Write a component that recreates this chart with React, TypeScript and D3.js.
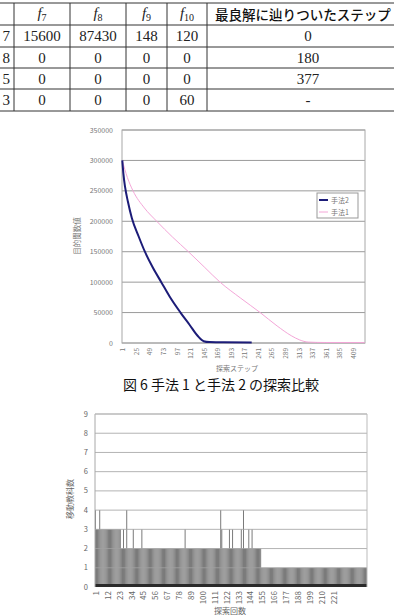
import React from "react";
import * as d3 from "d3";

// ---- table data ----
const tableHeaders = ["7", "8", "9", "10"];
const tableLastHeader = "最良解に辿りついたステップ";
const rowLead = ["7", "8", "5", "3"];
const rowF7 = ["15600", "0", "0", "0"];
const rowF8 = ["87430", "0", "0", "0"];
const rowF9 = ["148", "0", "0", "0"];
const rowF10 = ["120", "0", "0", "60"];
const rowBest = ["0", "180", "377", "-"];

// ---- line chart data ----
const lineYTicks = [0, 50000, 100000, 150000, 200000, 250000, 300000, 350000];
const lineXLabels = [1, 25, 49, 73, 97, 121, 145, 169, 193, 217, 241, 265, 289, 313, 337, 361, 385, 409];
const lineStepCount = 430;
const m2Steps = [1, 3, 6, 11, 18, 30, 41, 55, 70, 85, 104, 120, 135, 145, 155, 180, 230];
const m2Values = [300000, 278000, 256000, 232000, 205000, 175000, 150000, 124000, 100000, 76000, 50000, 30000, 11000, 3000, 1500, 1100, 1000];
const m1Steps = [1, 10, 20, 40, 62, 90, 118, 146, 174, 210, 245, 275, 300, 315, 330, 360, 430];
const m1Values = [300000, 272000, 250000, 222000, 200000, 174000, 150000, 125000, 100000, 74000, 50000, 28000, 12000, 5000, 1500, 800, 700];
const legendNames = ["手法2", "手法1"];

// ---- bar chart data ----
const barYTicks = [0, 1, 2, 3, 4, 5, 6, 7, 8, 9];
const barXLabels = [1, 12, 23, 34, 45, 56, 67, 78, 89, 100, 111, 122, 133, 144, 155, 166, 177, 188, 199, 210, 221];
const barValues = [
  4, 3, 3, 3, 4, 3, 3, 3, 3, 3, 3, 3, 3, 3, 3, 3, 3, 3, 3, 3, 3, 3, 3, 3, 2, 2, 3, 2, 2, 4,
  2, 2, 2, 2, 2, 3, 2, 2, 2, 2, 2, 2, 2, 3, 2, 2, 2, 2, 2, 2, 2, 2, 2, 2, 2, 2, 2, 2, 2, 2,
  2, 2, 2, 2, 2, 2, 2, 2, 2, 2, 2, 2, 2, 2, 2, 2, 2, 2, 2, 2, 2, 2, 2, 3, 2, 2, 2, 2, 2, 2,
  2, 2, 2, 2, 2, 2, 2, 2, 2, 2, 2, 2, 2, 2, 2, 2, 2, 2, 2, 2, 2, 2, 2, 2, 2, 2, 4, 3, 2, 2,
  2, 2, 2, 2, 3, 2, 2, 3, 2, 2, 2, 2, 2, 2, 2, 3, 2, 4, 2, 2, 2, 2, 3, 2, 2, 3, 2, 2, 2, 2,
  2, 2, 2, 2, 1, 1, 1, 1, 1, 1, 1, 1, 1, 1, 1, 1, 1, 1, 1, 1, 1, 1, 1, 1, 1, 1, 1, 1, 1, 1,
  1, 1, 1, 1, 1, 1, 1, 1, 1, 1, 1, 1, 1, 1, 1, 1, 1, 1, 1, 1, 1, 1, 1, 1, 1, 1, 1, 1, 1, 1,
  1, 1, 1, 1, 1, 1, 1, 1, 1, 1, 1, 1, 1, 1, 1, 1, 1, 1, 1, 1, 1, 1, 1, 1, 1, 1, 1, 1, 1, 1,
  1, 1, 1, 1, 1, 1, 1, 1, 1, 1, 1, 1,
];

const serif = "'Liberation Serif', 'Times New Roman', 'DejaVu Serif', serif";
const cjk = "'Noto Sans CJK JP', 'Noto Sans', sans-serif";
const serifStyle = { fontFamily: serif };
const cjkStyle = { fontFamily: cjk };

export default function App() {
  // table geometry
  const rowLines = [3, 25, 47, 68, 89, 111];
  const colLines = [14, 70, 126, 167, 207];
  const colCenters = [42, 98, 146.5, 187];
  const rowCols = [rowF7, rowF8, rowF9, rowF10];

  // line chart scales
  const lx = d3.scaleLinear().domain([0.5, lineStepCount + 0.5]).range([122, 365]);
  const ly = d3.scaleLinear().domain([0, 350000]).range([343, 130]);
  const lineGen = d3
    .line<[number, number]>()
    .x((d) => lx(d[0]))
    .y((d) => ly(d[1]))
    .curve(d3.curveMonotoneX);
  const m2 = m2Steps.map((s, i) => [s, m2Values[i]] as [number, number]);
  const m1 = m1Steps.map((s, i) => [s, m1Values[i]] as [number, number]);

  // bar chart scales
  const bx = d3
    .scaleBand<number>()
    .domain(barValues.map((_, i) => i + 1))
    .range([95, 367])
    .paddingInner(0.2)
    .paddingOuter(0);
  const by = d3.scaleLinear().domain([0, 9]).range([587, 414]);

  return (
    <svg
      width={394}
      height={615}
      style={{ position: "absolute", left: 0, top: 0, background: "#fff" }}
    >
      {/* ---------- table ---------- */}
      <g>
        {rowLines.map((y, i) => (
          <line key={"h" + i} x1={0} x2={394} y1={y} y2={y} stroke="#333" strokeWidth={1} />
        ))}
        {colLines.map((x, i) => (
          <line key={"v" + i} x1={x} x2={x} y1={3} y2={111} stroke="#333" strokeWidth={1} />
        ))}
        {tableHeaders.map((h, i) => (
          <text key={"th" + i} x={colCenters[i]} y={18} textAnchor="middle" style={serifStyle} fontSize={15} fill="#222">
            <tspan fontStyle="italic">f</tspan>
            <tspan fontSize={10} dy={3}>{h}</tspan>
          </text>
        ))}
        <text x={215} y={19.5} style={cjkStyle} fontSize={13.5} fontWeight={500} fill="#111">
          {tableLastHeader}
        </text>
        {rowLead.map((v, r) => {
          const cy = (rowLines[r + 1] + rowLines[r + 2]) / 2 + 5;
          return (
            <g key={"row" + r}>
              <text x={10} y={cy} textAnchor="end" style={serifStyle} fontSize={15} fill="#222">
                {v}
              </text>
              {rowCols.map((col, c) => (
                <text key={c} x={colCenters[c]} y={cy} textAnchor="middle" style={serifStyle} fontSize={15} fill="#222">
                  {col[r]}
                </text>
              ))}
              <text x={308} y={cy} textAnchor="middle" style={serifStyle} fontSize={15} fill="#222">
                {rowBest[r]}
              </text>
            </g>
          );
        })}
      </g>

      {/* ---------- line chart ---------- */}
      <g>
        {lineYTicks.map((t) => (
          <line key={"lg" + t} x1={122} x2={365} y1={ly(t)} y2={ly(t)} stroke="#9a9a9a" strokeWidth={1} />
        ))}
        <rect x={122} y={130} width={243} height={213} fill="none" stroke="#a8a8a8" strokeWidth={1} />
        {lineYTicks.map((t) => (
          <text key={"ly" + t} x={113} y={ly(t) + 2.5} textAnchor="end" style={cjkStyle} fontSize={7} fill="#777">
            {t}
          </text>
        ))}
        {lineXLabels.map((t) => (
          <text
            key={"lx" + t}
            transform={`translate(${lx(t)},348) rotate(-90)`}
            textAnchor="end"
            dominantBaseline="central"
            style={cjkStyle}
            fontSize={6.5}
            fill="#777"
          >
            {t}
          </text>
        ))}
        <path d={lineGen(m1) || ""} fill="none" stroke="#f4a6d8" strokeWidth={1} />
        <path d={lineGen(m2) || ""} fill="none" stroke="#1c1c78" strokeWidth={2} />
        <text
          transform={`translate(80,236) rotate(-90)`}
          textAnchor="middle"
          style={cjkStyle}
          fontSize={7.5}
          fill="#777"
        >
          目的関数値
        </text>
        <text x={237} y={370.5} textAnchor="middle" style={cjkStyle} fontSize={7} fill="#777">
          探索ステップ
        </text>
        {/* legend */}
        <rect x={317} y={193} width={41} height={25} fill="#fff" stroke="#999" strokeWidth={1} />
        <line x1={319} x2={328} y1={200} y2={200} stroke="#1c1c78" strokeWidth={2} />
        <line x1={319} x2={328} y1={212} y2={212} stroke="#f4a6d8" strokeWidth={1} />
        <text x={331} y={202.5} style={cjkStyle} fontSize={7} fill="#777">
          {legendNames[0]}
        </text>
        <text x={331} y={214.5} style={cjkStyle} fontSize={7} fill="#777">
          {legendNames[1]}
        </text>
      </g>

      {/* caption */}
      <text x={221} y={390} textAnchor="middle" style={cjkStyle} fontSize={14} fill="#111">
        図 6 手法 1 と手法 2 の探索比較
      </text>

      {/* ---------- bar chart ---------- */}
      <g>
        {barValues.map((v, i) => (
          <rect
            key={"b" + i}
            x={bx(i + 1)}
            y={by(v)}
            width={bx.bandwidth()}
            height={by(0) - by(v)}
            fill="#666"
          />
        ))}
        {barYTicks.slice(1).map((t) => (
          <line key={"bg" + t} x1={95} x2={367} y1={by(t)} y2={by(t)} stroke="#a0a0a0" strokeOpacity={0.8} strokeWidth={1} />
        ))}
        <rect x={95} y={584} width={272} height={3} fill="#2a2a2a" />
        <line x1={95} x2={95} y1={414} y2={587} stroke="#a8a8a8" strokeWidth={1} />
        <line x1={367} x2={367} y1={414} y2={587} stroke="#bbb" strokeWidth={1} />
        <line x1={95} x2={367} y1={414} y2={414} stroke="#bbb" strokeWidth={1} />
        {barYTicks.map((t) => (
          <text key={"by" + t} x={88} y={by(t) + 2.5} textAnchor="end" style={cjkStyle} fontSize={7.5} fill="#666">
            {t}
          </text>
        ))}
        {barXLabels.map((t) => (
          <text
            key={"bx" + t}
            transform={`translate(${(bx(t) || 0) + bx.bandwidth() / 2},591) rotate(-90)`}
            textAnchor="end"
            dominantBaseline="central"
            style={cjkStyle}
            fontSize={8}
            fill="#666"
          >
            {t}
          </text>
        ))}
        <text
          transform={`translate(73,499) rotate(-90)`}
          textAnchor="middle"
          style={cjkStyle}
          fontSize={8}
          fill="#666"
        >
          移動教科数
        </text>
        <text x={230} y={614} textAnchor="middle" style={cjkStyle} fontSize={8} fill="#666">
          探索回数
        </text>
      </g>
    </svg>
  );
}
